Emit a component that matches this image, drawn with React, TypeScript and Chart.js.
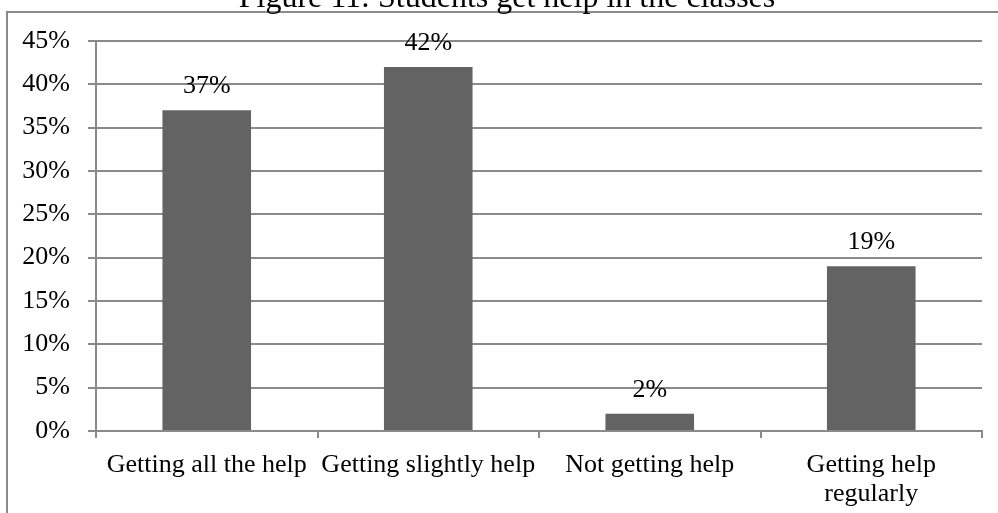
import React, { useEffect, useRef } from "react";
import { Chart, registerables } from "chart.js";

Chart.register(...registerables);

const TITLE = "Figure 11: Students get help in the classes";
const categories: (string | string[])[] = [
  "Getting all the help",
  "Getting slightly help",
  "Not getting help",
  ["Getting help", "regularly"],
];
const shares = [37, 42, 2, 19];
const yMax = 45;
const yStep = 5;

const FONT = "'Liberation Serif', 'Times New Roman', serif";
const GRID = "#8a8a8a";
const BAR = "#636363";

// Outer frame and the title above it.
const framePlugin = {
  id: "frameAndTitle",
  beforeDraw(chart: Chart) {
    const { ctx, width, height } = chart;
    ctx.save();
    ctx.fillStyle = "#ffffff";
    ctx.fillRect(0, 0, width, height);
    ctx.strokeStyle = GRID;
    ctx.lineWidth = 2;
    ctx.beginPath();
    ctx.moveTo(7, height + 2);
    ctx.lineTo(7, 12);
    ctx.lineTo(width + 2, 12);
    ctx.stroke();
    ctx.fillStyle = "#000000";
    ctx.font = `32px ${FONT}`;
    ctx.textAlign = "center";
    ctx.textBaseline = "alphabetic";
    ctx.fillText(TITLE, 507, 7);
    ctx.restore();
  },
};

// Percentage labels above each bar.
const valueLabels = {
  id: "valueLabels",
  afterDatasetsDraw(chart: Chart) {
    const { ctx } = chart;
    const meta = chart.getDatasetMeta(0);
    ctx.save();
    ctx.fillStyle = "#000000";
    ctx.font = `26px ${FONT}`;
    ctx.textAlign = "center";
    ctx.textBaseline = "alphabetic";
    meta.data.forEach((bar: any, i: number) => {
      ctx.fillText(`${shares[i]}%`, bar.x, bar.y - 17);
    });
    ctx.restore();
  },
};

export default function App() {
  const canvasRef = useRef<HTMLCanvasElement | null>(null);

  useEffect(() => {
    if (!canvasRef.current) return;
    const chart = new Chart(canvasRef.current, {
      type: "bar",
      data: {
        labels: categories,
        datasets: [
          {
            data: shares,
            backgroundColor: BAR,
            borderWidth: 0,
            barPercentage: 0.4,
            categoryPercentage: 1,
          },
        ],
      },
      options: {
        responsive: false,
        animation: false,
        layout: { padding: { top: 41, right: 16, left: 0, bottom: 0 } },
        plugins: {
          legend: { display: false },
          title: { display: false },
          tooltip: { enabled: false },
        },
        scales: {
          x: {
            grid: {
              display: true,
              drawOnChartArea: false,
              drawTicks: true,
              tickLength: 7,
              color: GRID,
              lineWidth: 2,
              offset: true,
            },
            border: { display: true, color: GRID, width: 2 },
            ticks: {
              color: "#000000",
              font: { family: FONT, size: 26, lineHeight: 1.1 },
              padding: 13,
              maxRotation: 0,
              autoSkip: false,
            },
            afterFit(scale: any) {
              scale.height = 82;
            },
          },
          y: {
            min: 0,
            max: yMax,
            grid: {
              color: GRID,
              lineWidth: 2,
              tickLength: 8,
              drawTicks: true,
            },
            border: { display: true, color: GRID, width: 2 },
            ticks: {
              stepSize: yStep,
              color: "#000000",
              font: { family: FONT, size: 26 },
              padding: 18,
              callback: (v: any) => `${v}%`,
            },
            afterFit(scale: any) {
              scale.width = 96;
            },
          },
        },
      },
      plugins: [framePlugin, valueLabels],
    });
    return () => chart.destroy();
  }, []);

  return (
    <div style={{ position: "fixed", left: 0, top: 0, width: 998, height: 513, background: "#fff" }}>
      <canvas ref={canvasRef} width={998} height={513} />
    </div>
  );
}
